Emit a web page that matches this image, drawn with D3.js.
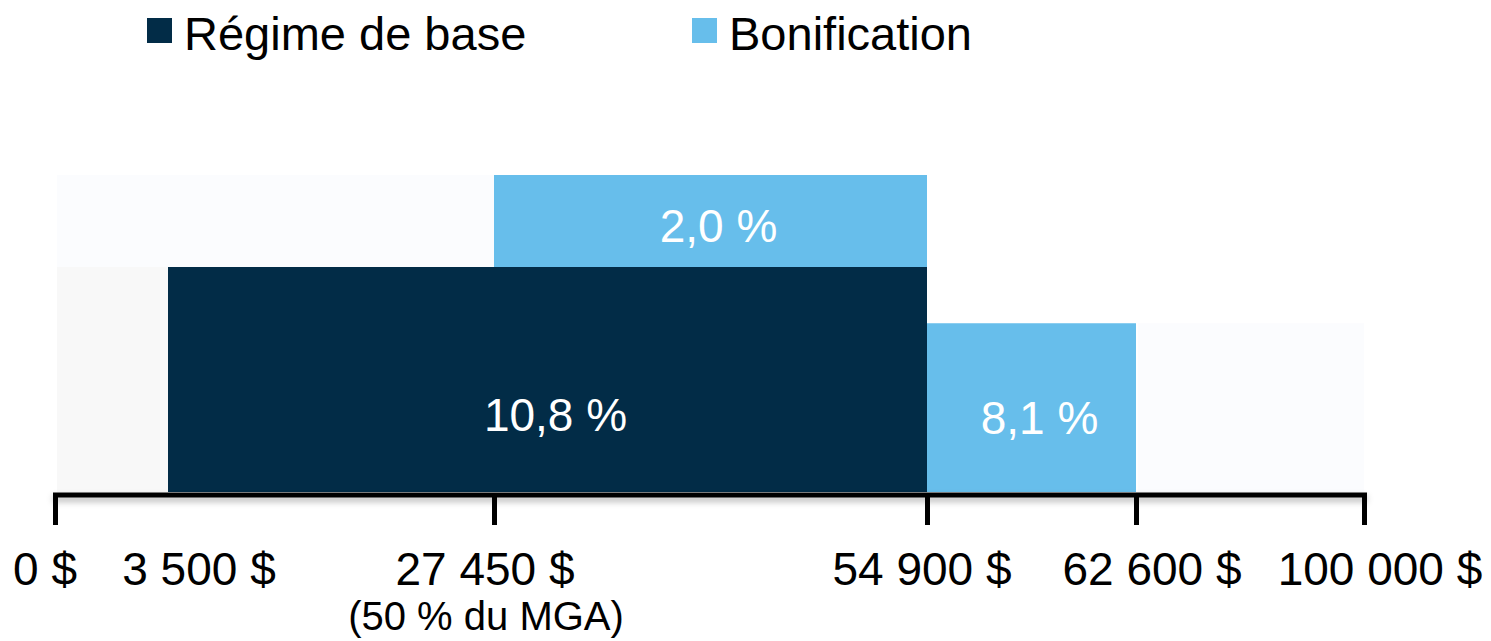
<!DOCTYPE html>
<html>
<head>
<meta charset="utf-8">
<script src="https://cdn.jsdelivr.net/npm/d3@7"></script>
<style>
  body { margin: 0; background: #fff; }
  text { font-family: "Liberation Sans", Arial, sans-serif; }
</style>
</head>
<body>
<script>
// series names (legend)
var seriesNames = ["Régime de base", "Bonification"];

// bar segments: income range, stacked base, rate
var segStart = [3500, 27450, 54900];
var segEnd = [54900, 54900, 62600];
var segSeries = [0, 1, 1];
var segLow = [0, 10.8, 0];
var segValue = [10.8, 2.0, 8.1];
var segLabel = ["10,8 %", "2,0 %", "8,1 %"];

// faint background blocks left in the original slide
var ghostStart = [0, 0, 62600];
var ghostEnd = [3500, 27450, 100000];
var ghostLow = [0, 10.8, 0];
var ghostHigh = [10.8, 12.8, 8.1];

// x axis
var tickValues = [0, 3500, 27450, 54900, 62600, 100000];
var tickLabels = ["0 $", "3 500 $", "27 450 $", "54 900 $", "62 600 $", "100 000 $"];
var tickNotes = ["", "", "(50 % du MGA)", "", "", ""];
var tickMarked = [true, false, true, true, true, true];

var width = 1491,
    height = 641,
    colors = ["#022c47", "#67beeb"],
    ghostColors = ["#f8f8f8", "#fbfcfe", "#fbfcfe"],
    labelDx = [-10, 31, -9, -5, 16, 16];

var svg = d3.select('body').append('svg')
    .attr('width', width)
    .attr('height', height);

// the x axis is not to scale in the original: piecewise mapping
var x = d3.scaleLinear()
    .domain(tickValues)
    .range([55, 168, 494, 927, 1136, 1364]);

// the bonus band is stretched too
var y = d3.scaleLinear()
    .domain([0, 10.8, 12.8])
    .range([492, 267, 175]);

var defs = svg.append('defs');
defs.append('filter')
    .attr('id', 'shadow')
    .attr('filterUnits', 'userSpaceOnUse')
    .attr('x', 0).attr('y', -20)
    .attr('width', width).attr('height', 60)
  .append('feDropShadow')
    .attr('dx', 0).attr('dy', 4)
    .attr('stdDeviation', 3)
    .attr('flood-color', '#000')
    .attr('flood-opacity', 0.3);

// ghost blocks
svg.selectAll('rect.ghost')
    .data(ghostStart.map(function(d, i){ return i; }))
  .enter().append('rect')
    .attr('class', 'ghost')
    .attr('x', function(i){ return x(ghostStart[i]) + 2; })
    .attr('width', function(i){ return x(ghostEnd[i]) - x(ghostStart[i]) - 2; })
    .attr('y', function(i){ return y(ghostHigh[i]); })
    .attr('height', function(i){ return y(ghostLow[i]) - y(ghostHigh[i]); })
    .attr('fill', function(i){ return ghostColors[i]; });

// bars
var idx = segStart.map(function(d, i){ return i; });

svg.selectAll('rect.bar')
    .data(idx)
  .enter().append('rect')
    .attr('class', 'bar')
    .attr('x', function(i){ return x(segStart[i]); })
    .attr('width', function(i){ return x(segEnd[i]) - x(segStart[i]); })
    .attr('y', function(i){ return y(segLow[i] + segValue[i]); })
    .attr('height', function(i){ return y(segLow[i]) - y(segLow[i] + segValue[i]); })
    .attr('fill', function(i){ return colors[segSeries[i]]; });

// bar labels
var labelDy = [51, 21, 26];
svg.selectAll('text.val')
    .data(idx)
  .enter().append('text')
    .attr('class', 'val')
    .attr('x', function(i){ return (x(segStart[i]) + x(segEnd[i])) / 2 + 8; })
    .attr('y', function(i){ return (y(segLow[i]) + y(segLow[i] + segValue[i])) / 2 + labelDy[i]; })
    .attr('text-anchor', 'middle')
    .attr('fill', '#fff')
    .style('font-size', '46px')
    .text(function(i){ return segLabel[i]; });

// axis
var axis = d3.axisBottom(x)
    .tickValues(tickValues.filter(function(d, i){ return tickMarked[i]; }))
    .tickSizeInner(30)
    .tickSizeOuter(0)
    .tickFormat('');

var gAxis = svg.append('g')
    .attr('transform', 'translate(0,495)')
    .call(axis);

gAxis.select('.domain').remove();

gAxis.insert('rect', ':first-child')
    .attr('x', x(0) - 2)
    .attr('y', -2.5)
    .attr('width', x(100000) - x(0) + 5)
    .attr('height', 5)
    .attr('fill', '#000')
    .attr('filter', 'url(#shadow)');

gAxis.selectAll('.tick line')
    .attr('stroke', '#000')
    .attr('stroke-width', 5)
    .attr('y1', -2);

// tick labels
svg.selectAll('text.tick-label')
    .data(tickValues)
  .enter().append('text')
    .attr('class', 'tick-label')
    .attr('x', function(d, i){ return x(d) + labelDx[i]; })
    .attr('y', 585)
    .attr('text-anchor', 'middle')
    .attr('fill', '#000')
    .style('font-size', '46px')
    .text(function(d, i){ return tickLabels[i]; });

svg.selectAll('text.tick-note')
    .data(tickValues.filter(function(d, i){ return tickNotes[i] !== ''; }))
  .enter().append('text')
    .attr('class', 'tick-note')
    .attr('x', function(d){ return x(d) - 8; })
    .attr('y', 630)
    .attr('text-anchor', 'middle')
    .attr('fill', '#000')
    .style('font-size', '40px')
    .text(function(d){ return tickNotes[tickValues.indexOf(d)]; });

// legend
var legendX = [147, 692];
var legend = svg.selectAll('g.legend')
    .data(seriesNames)
  .enter().append('g')
    .attr('class', 'legend')
    .attr('transform', function(d, i){ return 'translate(' + legendX[i] + ',18)'; });

legend.append('rect')
    .attr('width', 25)
    .attr('height', 25)
    .attr('fill', function(d, i){ return colors[i]; });

legend.append('text')
    .attr('x', 37)
    .attr('y', 32)
    .attr('fill', '#000')
    .style('font-size', '47px')
    .text(function(d){ return d; });
</script>
</body>
</html>
